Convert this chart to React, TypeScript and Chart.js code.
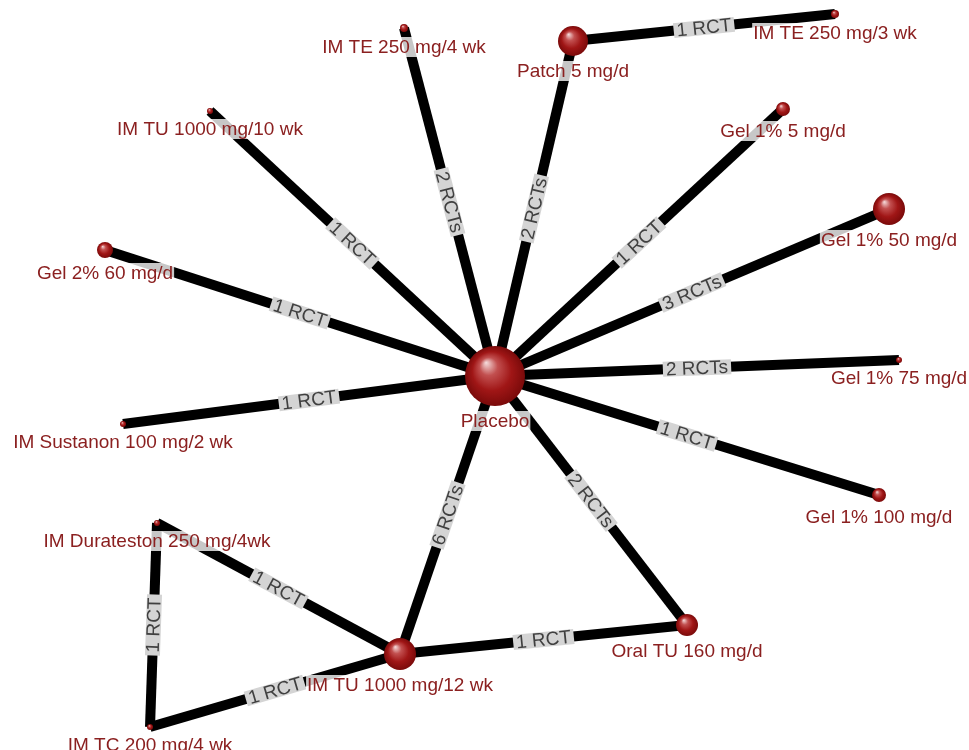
import { useEffect, useRef } from "react";
import { Chart, registerables } from "chart.js";

Chart.register(...registerables);

// treatments (nodes) of the network
const nodeNames = [
  "Placebo",
  "IM TE 250 mg/4 wk",
  "Patch 5 mg/d",
  "IM TE 250 mg/3 wk",
  "IM TU 1000 mg/10 wk",
  "Gel 1% 5 mg/d",
  "Gel 1% 50 mg/d",
  "Gel 2% 60 mg/d",
  "Gel 1% 75 mg/d",
  "IM Sustanon 100 mg/2 wk",
  "Gel 1% 100 mg/d",
  "IM Durateston 250 mg/4wk",
  "Oral TU 160 mg/d",
  "IM TU 1000 mg/12 wk",
  "IM TC 200 mg/4 wk",
];
// layout coordinates of the nodes
const nodeX = [495, 404, 573, 835, 210, 783, 889, 105, 899, 123, 879, 157, 687, 400, 150];
const nodeY = [376, 28, 41, 14, 111, 109, 209, 250, 360, 424, 495, 523, 625, 654, 727];
// node weight (bubble radius)
const nodeWeight = [30, 4, 15, 4, 3, 7, 16, 8, 3, 3, 7, 3, 11, 16, 3];

// comparisons (edges)
const edgeFrom = [0, 0, 2, 0, 0, 0, 0, 0, 0, 0, 0, 0, 13, 13, 13, 11];
const edgeTo = [1, 2, 3, 4, 5, 6, 7, 8, 9, 10, 13, 12, 12, 11, 14, 14];
const edgeTrials = [2, 2, 1, 1, 1, 3, 1, 2, 1, 1, 6, 2, 1, 1, 1, 1];

const FONT = "'Liberation Sans', Arial, sans-serif";
const LABEL_RED = "#8b2020";

// pre-rendered shaded ball used as point style
function sphere(r: number) {
  const c = document.createElement("canvas");
  c.width = c.height = r * 2;
  const g = c.getContext("2d")!;
  const grad = g.createRadialGradient(r * 0.7, r * 0.55, 0, r, r, r);
  grad.addColorStop(0, "#f6dede");
  grad.addColorStop(0.3, "#c25050");
  grad.addColorStop(0.65, "#a01616");
  grad.addColorStop(1, "#7a0a0a");
  g.fillStyle = grad;
  g.beginPath();
  g.arc(r, r, r, 0, Math.PI * 2);
  g.fill();
  return c;
}

const labelsPlugin = {
  id: "netLabels",
  afterDatasetsDraw(chart: any) {
    const { ctx, scales } = chart;
    const px = (i: number) => scales.x.getPixelForValue(nodeX[i]);
    const py = (i: number) => scales.y.getPixelForValue(nodeY[i]);
    ctx.save();
    // edge labels
    ctx.font = `19px ${FONT}`;
    ctx.textAlign = "center";
    ctx.textBaseline = "middle";
    edgeFrom.forEach((a, k) => {
      const b = edgeTo[k];
      let x1 = px(a), y1 = py(a), x2 = px(b), y2 = py(b);
      if (x2 < x1) {
        [x1, x2] = [x2, x1];
        [y1, y2] = [y2, y1];
      }
      const n = edgeTrials[k];
      const text = n === 1 ? "1 RCT" : `${n} RCTs`;
      const w = ctx.measureText(text).width + 6;
      ctx.save();
      ctx.translate((x1 + x2) / 2, (y1 + y2) / 2);
      ctx.rotate(Math.atan2(y2 - y1, x2 - x1));
      ctx.fillStyle = "#d4d4d4";
      ctx.fillRect(-w / 2, -7.5, w, 15);
      ctx.fillStyle = "#404040";
      ctx.fillText(text, 0, 1);
      ctx.restore();
    });
    // node labels
    ctx.font = `19px ${FONT}`;
    nodeNames.forEach((name, i) => {
      const x = px(i);
      const y = py(i) + nodeWeight[i] + 15;
      const w = ctx.measureText(name).width;
      ctx.fillStyle = "rgba(255,255,255,0.78)";
      ctx.fillRect(x - w / 2 - 1, y - 10, w + 2, 20);
      ctx.fillStyle = LABEL_RED;
      ctx.fillText(name, x, y + 1);
    });
    ctx.restore();
  },
};

export default function App() {
  const ref = useRef<HTMLCanvasElement | null>(null);

  useEffect(() => {
    if (!ref.current) return;
    const points = nodeNames.map((_, i) => ({ x: nodeX[i], y: nodeY[i] }));
    const balls = nodeWeight.map((r) => sphere(r));
    const edgeSets = edgeFrom.map((a, k) => ({
      type: "scatter" as const,
      data: [points[a], points[edgeTo[k]]],
      showLine: true,
      borderColor: "#000000",
      borderWidth: 10,
      pointRadius: 0,
      pointHoverRadius: 0,
    }));
    const chart = new Chart(ref.current, {
      type: "scatter",
      data: {
        datasets: [
          {
            data: points,
            pointStyle: balls as any,
            pointRadius: nodeWeight,
            pointHoverRadius: nodeWeight,
            borderWidth: 0,
            backgroundColor: "#a01616",
          },
          ...edgeSets,
        ],
      },
      options: {
        animation: false,
        responsive: true,
        maintainAspectRatio: false,
        layout: { padding: 0, autoPadding: false },
        events: [],
        scales: {
          x: { type: "linear", min: 0, max: 969, display: false },
          y: { type: "linear", min: 0, max: 750, reverse: true, display: false },
        },
        plugins: {
          legend: { display: false },
          tooltip: { enabled: false },
        },
      },
      plugins: [labelsPlugin],
    });
    return () => chart.destroy();
  }, []);

  return (
    <div style={{ position: "absolute", left: 0, top: 0, width: 969, height: 750, background: "#fff" }}>
      <canvas ref={ref} aria-label="Network of testosterone treatment comparisons" />
    </div>
  );
}
